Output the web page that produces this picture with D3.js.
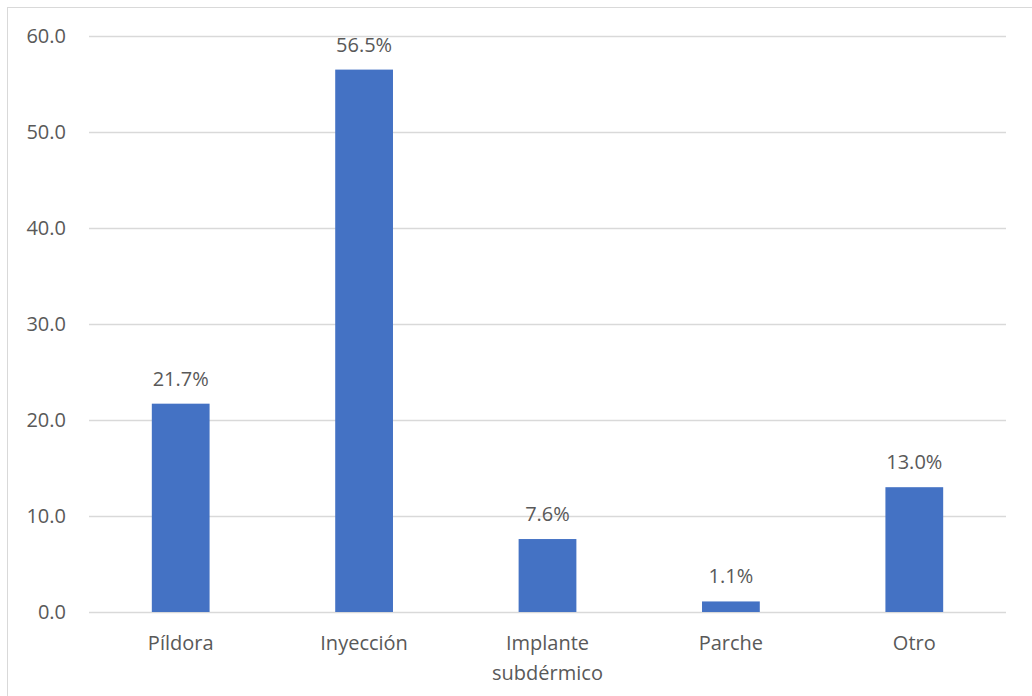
<!DOCTYPE html>
<html>
<head>
<meta charset="utf-8">
<script src="https://cdn.jsdelivr.net/npm/d3@7"></script>
<style>
  body { margin: 0; background: #fff; }
  svg text { font-family: "Open Sans", sans-serif; fill: #595959; }
</style>
</head>
<body>
<svg width="1032" height="696"></svg>
<script>
var categories = ["Píldora", "Inyección", "Implante subdérmico", "Parche", "Otro"];
var labelLines = [["Píldora"], ["Inyección"], ["Implante", "subdérmico"], ["Parche"], ["Otro"]];
var values = [21.7, 56.5, 7.6, 1.1, 13.0];
var yTicks = [0, 10, 20, 30, 40, 50, 60];

var svg = d3.select("svg"),
    margin = {top: 36, right: 26, bottom: 84, left: 89},
    width = +svg.attr("width") - margin.left - margin.right,
    height = +svg.attr("height") - margin.top - margin.bottom;

// chart border
svg.append("rect")
    .attr("x", 7.5).attr("y", 7.5)
    .attr("width", 1040).attr("height", 700)
    .attr("fill", "none")
    .attr("stroke", "#d9d9d9");

var g = svg.append("g").attr("transform", "translate(" + margin.left + "," + margin.top + ")");

var x = d3.scaleBand()
    .domain(categories)
    .range([0, width])
    .paddingInner(0.685)
    .paddingOuter(0.3425);

var y = d3.scaleLinear()
    .domain([0, 60])
    .range([height, 0]);

// gridlines
g.append("g")
  .selectAll("line")
  .data(yTicks)
  .enter().append("line")
    .attr("x1", 0).attr("x2", width)
    .attr("y1", function(d) { return Math.round(y(d)) + 0.5; })
    .attr("y2", function(d) { return Math.round(y(d)) + 0.5; })
    .attr("stroke", "#d9d9d9")
    .attr("stroke-width", 1.3);

// y axis labels
var yAxis = g.append("g")
    .call(d3.axisLeft(y).tickValues(yTicks).tickFormat(d3.format(".1f")).tickSize(0).tickPadding(23));
yAxis.select(".domain").remove();
yAxis.selectAll("text").attr("font-size", 20).attr("fill", "#595959");

// bars
g.append("g")
  .selectAll("rect")
  .data(values)
  .enter().append("rect")
    .attr("x", function(d, i) { return x(categories[i]); })
    .attr("y", function(d) { return y(d); })
    .attr("width", x.bandwidth())
    .attr("height", function(d) { return y(0) - y(d); })
    .attr("fill", "#4472C4");

// value labels
g.append("g")
  .selectAll("text")
  .data(values)
  .enter().append("text")
    .attr("x", function(d, i) { return x(categories[i]) + x.bandwidth() / 2; })
    .attr("y", function(d) { return y(d) - 18; })
    .attr("text-anchor", "middle")
    .attr("font-size", 20)
    .text(function(d) { return d.toFixed(1) + "%"; });

// category labels
var cat = g.append("g")
  .selectAll("text")
  .data(categories)
  .enter().append("text")
    .attr("x", function(d) { return x(d) + x.bandwidth() / 2; })
    .attr("y", height + 38)
    .attr("text-anchor", "middle")
    .attr("font-size", 20);

cat.selectAll("tspan")
  .data(function(d, i) { return labelLines[i]; })
  .enter().append("tspan")
    .attr("x", function() { return d3.select(this.parentNode).attr("x"); })
    .attr("dy", function(d, i) { return i === 0 ? 0 : 30; })
    .text(function(d) { return d; });
</script>
</body>
</html>
